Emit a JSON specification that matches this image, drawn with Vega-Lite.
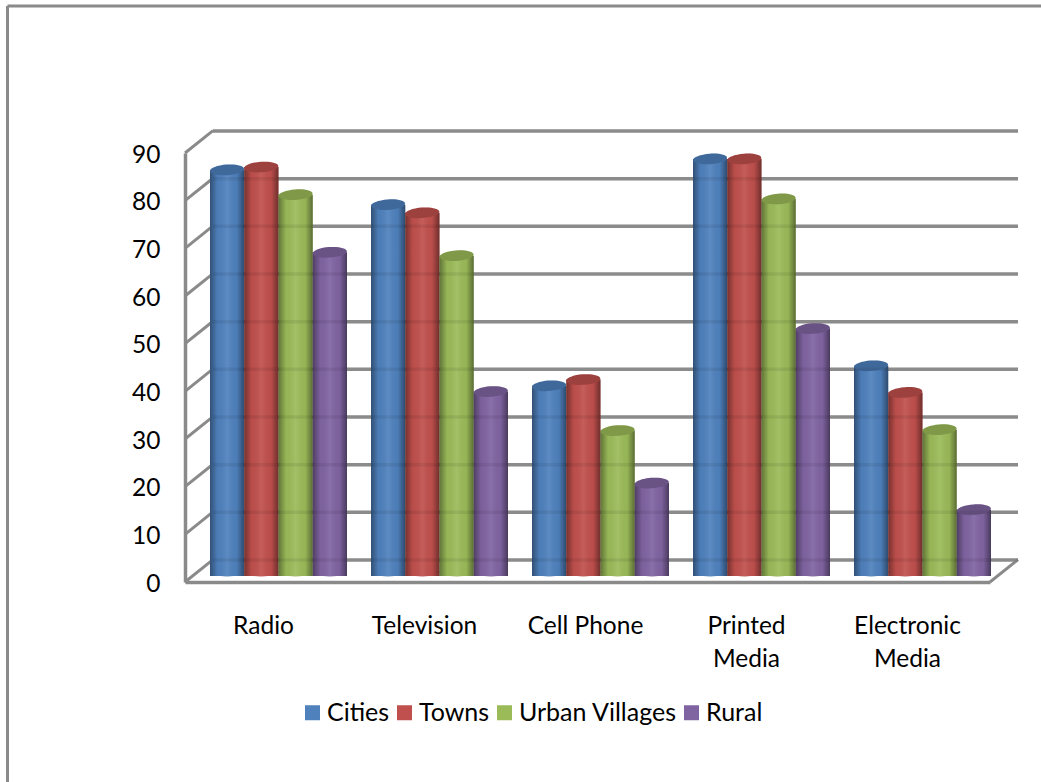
{
"$schema":"https://vega.github.io/schema/vega-lite/v6.json",
"width":805,"height":429,
"autosize":{"type":"none"},
"padding":{"left":185,"top":153,"right":51,"bottom":200},
"background":"white",
"config":{"view":{"stroke":null},"font":"Lato"},
"datasets":{
"rows":[
{"medium":"Radio","series":"Cities","value":85.2},{"medium":"Radio","series":"Towns","value":85.8},{"medium":"Radio","series":"Urban Villages","value":80},{"medium":"Radio","series":"Rural","value":67.9},
{"medium":"Television","series":"Cities","value":77.9},{"medium":"Television","series":"Towns","value":76.2},{"medium":"Television","series":"Urban Villages","value":67.2},{"medium":"Television","series":"Rural","value":38.7},
{"medium":"Cell Phone","series":"Cities","value":39.9},{"medium":"Cell Phone","series":"Towns","value":41.2},{"medium":"Cell Phone","series":"Urban Villages","value":30.5},{"medium":"Cell Phone","series":"Rural","value":19.5},
{"medium":"Printed Media","series":"Cities","value":87.5},{"medium":"Printed Media","series":"Towns","value":87.5},{"medium":"Printed Media","series":"Urban Villages","value":79.1},{"medium":"Printed Media","series":"Rural","value":51.9},
{"medium":"Electronic Media","series":"Cities","value":44.1},{"medium":"Electronic Media","series":"Towns","value":38.5},{"medium":"Electronic Media","series":"Urban Villages","value":30.7},{"medium":"Electronic Media","series":"Rural","value":13.9}
],
"ticks":[{"t":0},{"t":10},{"t":20},{"t":30},{"t":40},{"t":50},{"t":60},{"t":70},{"t":80},{"t":90}]
},
"layer":[
{"data":{"values":[{}]},"mark":{"type":"rule","stroke":"#8a8a8a","strokeWidth":3},"encoding":{"x":{"value":-177.5},"x2":{"value":900},"y":{"value":-147}}},
{"data":{"values":[{}]},"mark":{"type":"rule","stroke":"#8a8a8a","strokeWidth":3},"encoding":{"x":{"value":-177.5},"y":{"value":-147},"y2":{"value":640}}},
{"data":{"name":"ticks"},"mark":{"type":"rule","stroke":"#969696","strokeWidth":3.5,"yOffset":-22},
 "encoding":{"x":{"value":28},"x2":{"value":833},"y":{"field":"t","type":"quantitative","scale":{"domain":[0,90],"nice":false},
  "axis":{"title":null,"values":[0,10,20,30,40,50,60,70,80,90],"grid":false,"ticks":false,"domain":true,"domainColor":"#8a8a8a","domainWidth":3.5,"labelFontSize":24.5,"labelColor":"#000000","labelFont":"Lato","labelPadding":25,"labelOffset":2}}}},
{"data":{"name":"ticks"},"mark":{"type":"point","shape":"M0,0 L2,-1.6","size":784,"filled":false,"stroke":"#8a8a8a","strokeWidth":3,"opacity":1},
 "encoding":{"x":{"value":0},"y":{"field":"t","type":"quantitative"}}},
{"data":{"values":[{"t":0}]},"mark":{"type":"point","shape":"M0,0 L2,-1.6","size":784,"filled":false,"stroke":"#8a8a8a","strokeWidth":3,"opacity":1},
 "encoding":{"x":{"value":805},"y":{"field":"t","type":"quantitative"}}},
{"data":{"name":"rows"},
 "encoding":{
  "x":{"field":"medium","type":"nominal","sort":["Radio","Television","Cell Phone","Printed Media","Electronic Media"],
   "scale":{"paddingInner":0,"paddingOuter":0},
   "axis":{"title":null,"orient":"bottom","ticks":false,"domain":true,"domainColor":"#8a8a8a","domainWidth":3.5,"labelAngle":0,"labelFontSize":24.5,"labelColor":"#000000","labelFont":"Lato","labelPadding":44,"labelLineHeight":33,"labelBaseline":"middle","labelFontWeight":400,"labelOffset":-2,
    "labelExpr":"datum.value=='Printed Media'?['Printed','Media']:datum.value=='Electronic Media'?['Electronic','Media']:datum.value"}},
  "xOffset":{"field":"series","type":"nominal","sort":["Cities","Towns","Urban Villages","Rural"],"scale":{"domain":["Cities","Towns","Urban Villages","Rural"],"range":[25,162],"paddingInner":0,"paddingOuter":0}}
 },
 "layer":[
  {"mark":{"type":"bar","yOffset":-6,"y2Offset":-10},
   "encoding":{"y":{"field":"value","type":"quantitative"},
    "color":{"field":"series","type":"nominal","sort":["Cities","Towns","Urban Villages","Rural"],
     "scale":{"domain":["Cities","Towns","Urban Villages","Rural"],"range":["#4f81bd","#c0504d","#9bbb59","#8064a2"]},
     "legend":{"title":null,"orient":"none","legendX":115,"legendY":547,"columns":4,"symbolType":"square","symbolSize":225,"symbolStrokeWidth":0,"labelFontSize":25,"labelColor":"#000000","labelFont":"Lato","labelOffset":2,"columnPadding":2,"symbolOpacity":1}}}},
  {"mark":{"type":"bar","yOffset":-6,"y2Offset":-10,
    "fill":{"gradient":"linear","x1":0,"x2":1,"y1":0,"y2":0,"stops":[{"offset":0,"color":"rgba(0,0,0,0.38)"},{"offset":0.22,"color":"rgba(0,0,0,0.03)"},{"offset":0.5,"color":"rgba(255,255,255,0.08)"},{"offset":0.78,"color":"rgba(0,0,0,0.03)"},{"offset":1,"color":"rgba(0,0,0,0.42)"}]}},
   "encoding":{"y":{"field":"value","type":"quantitative"}}},
  {"mark":{"type":"point","filled":true,"shape":"M-1,0 A1,0.26 0 1 1 1,0 A1,0.26 0 1 1 -1,0 Z","size":1156,"opacity":1,"yOffset":-10},
   "encoding":{"y":{"datum":0,"type":"quantitative"},"color":{"field":"series","type":"nominal","legend":null}}},
  {"mark":{"type":"point","filled":true,"shape":"M-1,0 A1,0.26 0 1 1 1,0 A1,0.26 0 1 1 -1,0 Z","size":1156,"opacity":1,"yOffset":-10,
    "fill":{"gradient":"linear","x1":0,"x2":1,"y1":0,"y2":0,"stops":[{"offset":0,"color":"rgba(0,0,0,0.38)"},{"offset":0.22,"color":"rgba(0,0,0,0.03)"},{"offset":0.5,"color":"rgba(255,255,255,0.08)"},{"offset":0.78,"color":"rgba(0,0,0,0.03)"},{"offset":1,"color":"rgba(0,0,0,0.42)"}]}},
   "encoding":{"y":{"datum":0,"type":"quantitative"}}},
  {"mark":{"type":"point","filled":true,"shape":"M-1,0 A1,0.31 0 1 1 1,0 A1,0.31 0 1 1 -1,0 Z","size":1156,"angle":-4,"opacity":1,"yOffset":-6},
   "encoding":{"y":{"field":"value","type":"quantitative"},"color":{"field":"series","type":"nominal","legend":null}}},
  {"mark":{"type":"point","filled":true,"shape":"M-1,0 A1,0.31 0 1 1 1,0 A1,0.31 0 1 1 -1,0 Z","size":1156,"angle":-4,"color":"#000000","opacity":0.18,"yOffset":-6},
   "encoding":{"y":{"field":"value","type":"quantitative"}}}
 ]
},
{"data":{"name":"ticks"},"mark":{"type":"rule","stroke":"#000000","strokeOpacity":0.07,"strokeWidth":3.5,"yOffset":-22},
 "encoding":{"x":{"value":28},"x2":{"value":833},"y":{"field":"t","type":"quantitative"}}}
],
"resolve":{"scale":{"y":"shared"}}
}
